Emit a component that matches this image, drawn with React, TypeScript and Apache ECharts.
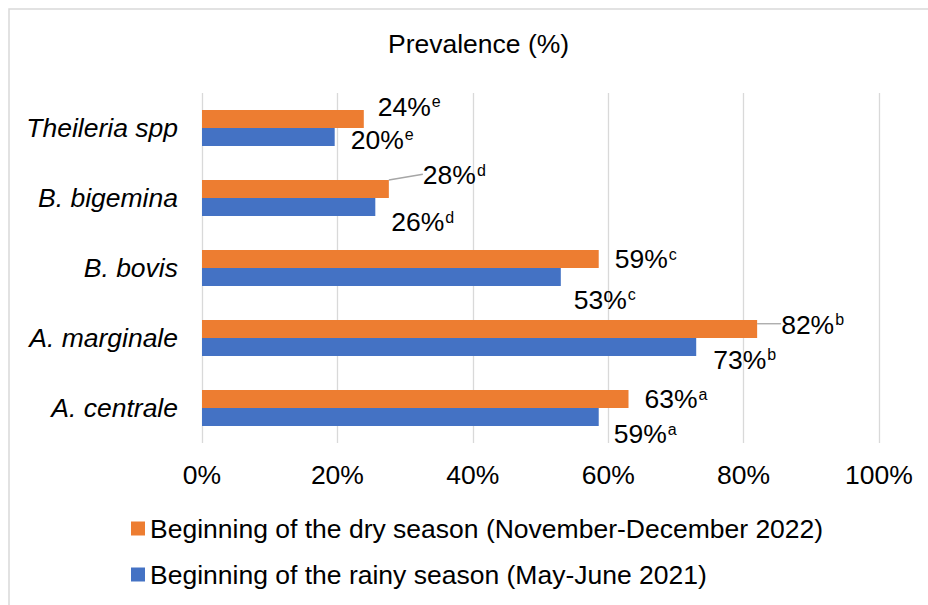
import React, { useEffect, useRef } from "react";
import * as echarts from "echarts";

const categories = ["A. centrale", "A. marginale", "B. bovis", "B. bigemina", "Theileria spp"];
const dryValues = [63, 82, 58.6, 27.6, 23.9];
const rainyValues = [58.6, 73, 53, 25.6, 19.6];
const letters = ["a", "b", "c", "d", "e"];
const xTicks = [0, 20, 40, 60, 80, 100];
const drySeriesName = "Beginning of the dry season (November-December 2022)";
const rainySeriesName = "Beginning of the rainy season (May-June 2021)";

// label shifts (px) relative to default right-of-bar position
const dryShiftX = [2, 10, 2, 20, 0];
const dryShiftY = [0, -4.5, 0, -14, -12.5];
const rainyShiftX = [1, 3, -1, 2, 2];
const rainyShiftY = [17, 12.5, 22.5, 15, 2.5];
const dryLeader = [false, true, false, true, false];

const FONT = "'Liberation Sans', Arial, sans-serif";
const FS = 26.5;

export default function App() {
  const ref = useRef<HTMLDivElement>(null);
  useEffect(() => {
    if (!ref.current) return;
    const chart = echarts.init(ref.current, undefined, { renderer: "svg" });
    const rich = {
      m: { fontSize: FS, fontFamily: FONT, color: "#000", lineHeight: 30 },
      s: { fontSize: 16, fontFamily: FONT, color: "#000", verticalAlign: "top", lineHeight: 16, padding: [2, 0, 0, 1] },
    };
    const labelFmt = (p: any) => `{m|${Math.round(p.value)}%}{s|${letters[p.dataIndex]}}`;
    chart.setOption({
      animation: false,
      title: {
        text: "Prevalence (%)",
        left: 383,
        top: 25,
        textStyle: { fontSize: FS, fontWeight: "normal", fontFamily: FONT, color: "#000" },
      },
      graphic: [
        {
          type: "rect",
          shape: { x: 9, y: 9, width: 1200, height: 1200 },
          style: { fill: "none", stroke: "#d9d9d9", lineWidth: 1.5 },
          silent: true,
        },
      ],
      legend: {
        orient: "vertical",
        left: 131,
        top: 515,
        padding: 0,
        itemWidth: 14,
        itemHeight: 14,
        itemGap: 19,
        icon: "rect",
        data: [drySeriesName, rainySeriesName],
        textStyle: { fontSize: FS, fontFamily: FONT, color: "#000", lineHeight: 26 },
      },
      grid: { left: 202, right: 49, top: 93, bottom: 162, containLabel: false },
      xAxis: {
        type: "value",
        min: xTicks[0],
        max: xTicks[xTicks.length - 1],
        interval: xTicks[1] - xTicks[0],
        axisLine: { show: false },
        axisTick: { show: false },
        splitLine: { lineStyle: { color: "#d9d9d9", width: 1.3 } },
        axisLabel: { formatter: "{value}%", fontSize: FS, fontFamily: FONT, color: "#000", margin: 18 },
      },
      yAxis: {
        type: "category",
        data: categories,
        axisLine: { show: false },
        axisTick: { show: false },
        axisLabel: { fontSize: FS, fontFamily: FONT, fontStyle: "italic", color: "#000", margin: 24 },
      },
      series: [
        {
          name: drySeriesName,
          type: "bar",
          data: dryValues.map((v, i) => ({
            value: v,
            labelLine: { show: dryLeader[i] },
          })),
          barWidth: 18,
          barGap: "0%",
          itemStyle: { color: "#ED7D31" },
          label: { show: true, position: "right", distance: 14, formatter: labelFmt, rich },
          labelLine: { show: false, lineStyle: { color: "#a6a6a6", width: 1.3 } },
          labelLayout: (p: any) => ({ dx: dryShiftX[p.dataIndex], dy: dryShiftY[p.dataIndex] }),
        },
        {
          name: rainySeriesName,
          type: "bar",
          data: rainyValues,
          barWidth: 18,
          barGap: "0%",
          itemStyle: { color: "#4472C4" },
          label: { show: true, position: "right", distance: 14, formatter: labelFmt, rich },
          labelLayout: (p: any) => ({ dx: rainyShiftX[p.dataIndex], dy: rainyShiftY[p.dataIndex] }),
        },
      ],
    });
    return () => chart.dispose();
  }, []);
  return (
    <div
      ref={ref}
      style={{ position: "fixed", left: 0, top: 0, width: 928, height: 605, background: "#fff" }}
    />
  );
}
